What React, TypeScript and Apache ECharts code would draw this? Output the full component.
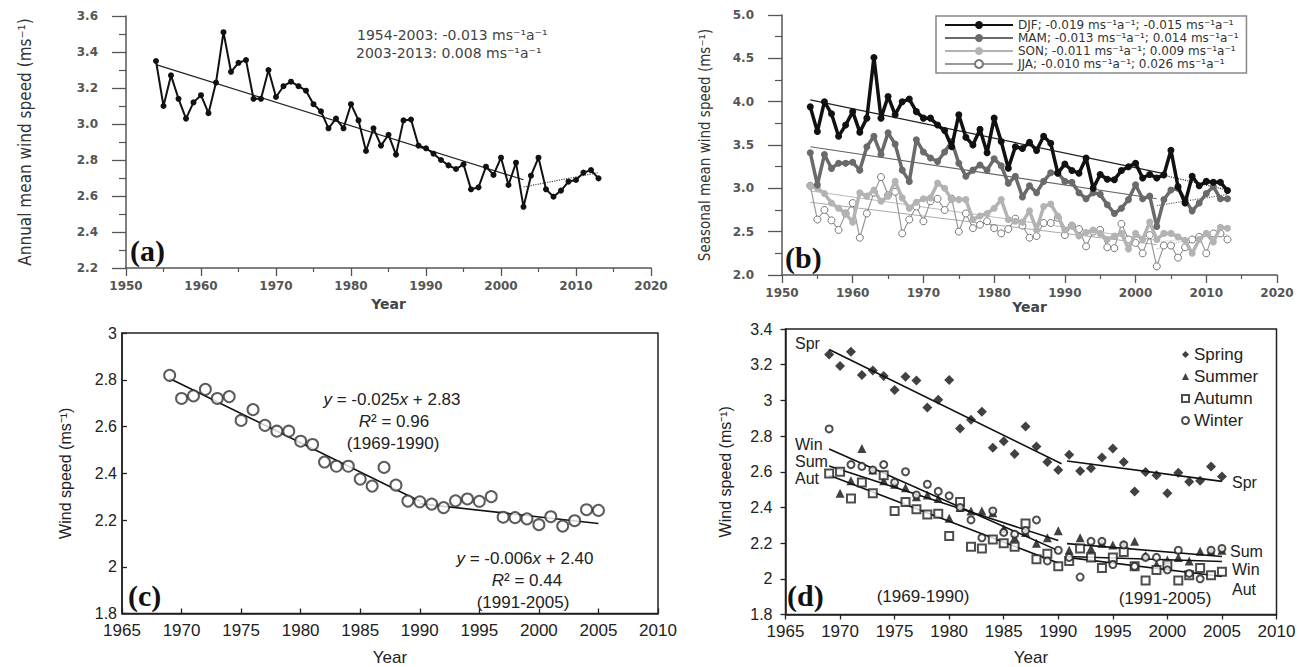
import React, { useEffect, useRef } from "react";
import * as echarts from "echarts";

// ---------- Panel (a): annual mean wind speed 1954-2013 ----------
const startA = 1954;
const annualMean = [
  3.35, 3.1, 3.27, 3.14, 3.03, 3.12, 3.16, 3.06, 3.23, 3.51,
  3.29, 3.34, 3.355, 3.14, 3.14, 3.3, 3.15, 3.21, 3.235, 3.21,
  3.185, 3.11, 3.07, 2.976, 3.03, 2.976, 3.11, 3.02, 2.85, 2.976,
  2.88, 2.94, 2.83, 3.02, 3.025, 2.88, 2.865, 2.835, 2.8, 2.77,
  2.75, 2.776, 2.637, 2.648, 2.763, 2.717, 2.813, 2.661, 2.785, 2.54,
  2.713, 2.813, 2.637, 2.596, 2.63, 2.68, 2.689, 2.73, 2.744, 2.698,
];
const trendA1 = [[1954, 3.33], [2003, 2.69]];
const trendA2 = [[2003, 2.65], [2013, 2.73]];

// ---------- Panel (b): seasonal mean wind speed 1954-2013 ----------
const djf = [
  3.94, 3.655, 4.0, 3.86, 3.6, 3.73, 3.885, 3.648, 3.81, 4.51,
  3.81, 4.06, 3.85, 4.0, 4.03, 3.885, 3.81, 3.81, 3.73, 3.667,
  3.48, 3.85, 3.59, 3.5, 3.68, 3.41, 3.81, 3.54, 3.233, 3.48,
  3.46, 3.53, 3.436, 3.6, 3.52, 3.175, 3.28, 3.205, 3.175, 3.35,
  3.0, 3.16, 3.105, 3.1, 3.205, 3.25, 3.29, 3.12, 3.16, 3.12,
  3.155, 3.44, 3.02, 2.83, 3.14, 3.03, 3.08, 3.07, 3.07, 2.975,
];
const mam = [
  3.41, 3.04, 3.39, 3.23, 3.29, 3.29, 3.3, 3.21, 3.48, 3.6,
  3.39, 3.64, 3.51, 3.21, 3.08, 3.56, 3.42, 3.35, 3.31, 3.42,
  3.54, 3.29, 3.14, 3.21, 3.27, 3.21, 3.34, 3.26, 3.06, 3.14,
  2.9, 3.03, 2.95, 3.08, 3.18, 3.18, 3.08, 3.07, 2.95, 2.88,
  2.95, 2.93, 2.81, 2.71, 2.77, 2.87, 3.04, 2.88, 2.91, 2.56,
  2.87, 2.98, 3.0, 2.87, 2.74, 2.83, 2.94, 3.02, 2.88, 2.88,
];
const son = [
  3.03, 3.0, 2.94, 2.83, 2.77, 2.71, 2.61, 2.95, 2.91, 2.98,
  2.85, 2.91, 3.08, 2.89, 2.77, 2.84, 2.88, 2.89, 3.06, 3.0,
  2.87, 2.87, 2.87, 2.64, 2.68, 2.71, 2.77, 2.87, 2.64, 2.62,
  2.61, 2.74, 2.52, 2.79, 2.82, 2.68, 2.52, 2.57, 2.45, 2.49,
  2.52, 2.48, 2.41, 2.45, 2.48, 2.3, 2.48, 2.41, 2.61, 2.41,
  2.48, 2.48, 2.44, 2.4, 2.25, 2.41, 2.48, 2.38, 2.55, 2.54,
];
const jja = [
  3.03, 2.64, 2.75, 2.63, 2.52, 2.71, 2.83, 2.43, 2.71, 2.95,
  3.13, 2.92, 2.96, 2.48, 2.64, 2.79, 2.62, 2.85, 2.88, 2.75,
  2.88, 2.5, 2.71, 2.54, 2.58, 2.62, 2.54, 2.48, 2.53, 2.65,
  2.57, 2.43, 2.45, 2.6, 2.6, 2.66, 2.46, 2.57, 2.53, 2.33,
  2.5, 2.52, 2.32, 2.31, 2.59, 2.41, 2.37, 2.25, 2.46, 2.1,
  2.34, 2.34, 2.2, 2.32, 2.41, 2.44, 2.25, 2.48, 2.48, 2.41,
];
const trendDJF = [[1954, 4.02], [2004, 3.17]];
const trendDJF2 = [[2004, 3.15], [2013, 2.98]];
const trendMAM = [[1954, 3.48], [2003, 2.88]];
const trendMAM2 = [[2003, 2.8], [2013, 2.93]];
const trendSON = [[1954, 2.97], [2003, 2.4]];
const trendSON2 = [[2003, 2.38], [2013, 2.47]];
const trendJJA = [[1954, 2.84], [2003, 2.35]];
const trendJJA2 = [[2003, 2.3], [2013, 2.56]];
const legendB = [
  "DJF; -0.019 ms\u207B\u00B9a\u207B\u00B9; -0.015 ms\u207B\u00B9a\u207B\u00B9",
  "MAM; -0.013 ms\u207B\u00B9a\u207B\u00B9; 0.014 ms\u207B\u00B9a\u207B\u00B9",
  "SON; -0.011 ms\u207B\u00B9a\u207B\u00B9; 0.009 ms\u207B\u00B9a\u207B\u00B9",
  "JJA; -0.010 ms\u207B\u00B9a\u207B\u00B9; 0.026 ms\u207B\u00B9a\u207B\u00B9",
];

// ---------- Panel (c): annual wind speed 1969-2005 ----------
const startC = 1969;
const windC = [
  2.819, 2.72, 2.731, 2.759, 2.72, 2.728, 2.626, 2.672, 2.605, 2.58,
  2.58, 2.537, 2.523, 2.448, 2.43, 2.43, 2.375, 2.345, 2.425, 2.349,
  2.281, 2.278, 2.268, 2.253, 2.282, 2.29, 2.28, 2.3, 2.212, 2.21,
  2.205, 2.18, 2.214, 2.174, 2.197, 2.244, 2.241,
];
const trendC1 = [[1969, 2.805], [1990, 2.28]];
const trendC2 = [[1990, 2.27], [2005, 2.185]];

// ---------- Panel (d): seasonal wind speed 1969-2005 ----------
const spring = [
  3.257, 3.192, 3.272, 3.142, 3.168, 3.136, 3.058, 3.133, 3.112, 2.96,
  3.003, 3.114, 2.843, 2.891, 2.936, 2.735, 2.771, 2.7, 2.854, 2.741,
  2.654, 2.61, 2.695, 2.604, 2.62, 2.68, 2.73, 2.654, 2.49, 2.598,
  2.58, 2.479, 2.594, 2.544, 2.55, 2.63, 2.574,
];
const summer = [
  null, 2.48, 2.55, 2.73, 2.61, 2.55, 2.53, 2.51, 2.46, 2.47,
  2.45, 2.34, 2.4, 2.38, 2.38, 2.37, 2.28, 2.23, 2.26, 2.2,
  2.23, 2.27, 2.16, 2.23, 2.17, 2.2, 2.19, 2.19, 2.21, 2.13,
  2.08, 2.105, 2.12, 2.1, 2.155, 2.155, 2.16,
];
const autumn = [
  2.59, 2.6, 2.45, 2.54, 2.48, 2.58, 2.38, 2.43, 2.39, 2.36,
  2.365, 2.24, 2.43, 2.18, 2.17, 2.22, 2.2, 2.18, 2.31, 2.11,
  2.14, 2.07, 2.1, 2.17, 2.12, 2.06, 2.12, 2.15, 2.07, 1.99,
  2.05, 2.08, 1.99, 2.02, 2.06, 2.02, 2.04,
];
const winter = [
  2.84, null, 2.64, 2.63, 2.61, 2.64, 2.54, 2.6, 2.47, 2.53,
  2.49, 2.465, 2.4, 2.33, 2.23, 2.38, 2.26, 2.25, 2.27, 2.33,
  2.1, 2.16, 2.12, 2.01, 2.21, 2.21, 2.08, 2.19, 2.07, 2.12,
  2.12, 2.05, 2.16, 2.03, 2.0, 2.16, 2.17,
];
const trendSpr1 = [[1969, 3.285], [1990.3, 2.645]];
const trendSpr2 = [[1990.8, 2.66], [2005, 2.546]];
const trendWin1 = [[1969, 2.727], [1990, 2.158]];
const trendSum1 = [[1969, 2.632], [1990, 2.215]];
const trendAut1 = [[1969, 2.58], [1990, 2.088]];
const trendSum2 = [[1990.8, 2.197], [2005, 2.125]];
const trendWin2 = [[1990.8, 2.125], [2005, 2.097]];
const trendAut2 = [[1990.8, 2.12], [2005, 2.013]];

const pairs = (start: number, arr: (number | null)[]) =>
  arr.map((v, i) => (v == null ? null : [start + i, v])).filter((p) => p !== null);

const WIDE = "DejaVu Sans, sans-serif";
const NARROW = "Liberation Sans Narrow, DejaVu Sans Condensed, sans-serif";
const ARIAL = "Liberation Sans, Arial, sans-serif";
const SERIF = "Liberation Serif, Times New Roman, serif";

function trend(data: number[][], x: number, y: number, color: string, width: number, type: string = "solid") {
  return {
    type: "line",
    xAxisIndex: x,
    yAxisIndex: y,
    data,
    symbol: "none",
    silent: true,
    z: 5,
    lineStyle: { color, width, type },
  };
}

function txt(text: string, x: number, y: number, size: number, opts: any = {}) {
  return {
    type: "text",
    x,
    y,
    z: 100,
    style: {
      text,
      fontSize: size,
      fontFamily: opts.family || ARIAL,
      fontWeight: opts.weight || "normal",
      fill: opts.fill || "#222",
      align: opts.align || "left",
      verticalAlign: "middle",
      textAlign: opts.align || "left",
      textVerticalAlign: "middle",
      rich: opts.rich,
    },
  };
}

export default function App() {
  const ref = useRef<HTMLDivElement>(null);
  useEffect(() => {
    if (!ref.current) return;
    const chart = echarts.init(ref.current, null, { renderer: "svg" });

    const axisAB = (min: number, max: number, interval: number, isY: boolean, fmt: boolean) => ({
      type: "value",
      min,
      max,
      interval,
      splitLine: { show: false },
      axisLine: { show: true, onZero: false, lineStyle: { color: "#555", width: 1.5 } },
      axisTick: { show: true, length: isY ? 14 : 8, lineStyle: { color: "#555", width: 1.3 } },
      minorTick: { show: true, splitNumber: 2, length: isY ? 7 : 4, lineStyle: { color: "#555", width: 1.2 } },
      axisLabel: {
        fontFamily: WIDE,
        fontWeight: "bold",
        fontSize: 12,
        color: "#555",
        margin: isY ? 28 : 12,
        formatter: fmt ? (v: number) => v.toFixed(1) : (v: number) => String(v),
      },
    });

    const axisCD = (min: number, max: number, interval: number, isY: boolean, inside: boolean, margin: number) => ({
      type: "value",
      min,
      max,
      interval,
      splitLine: { show: false },
      axisLine: { show: true, onZero: false, lineStyle: { color: "#222", width: 1.5 } },
      axisTick: { show: true, inside, length: 5, lineStyle: { color: "#222", width: 1.3 } },
      axisLabel: {
        fontFamily: ARIAL,
        fontSize: isY ? 16 : 17,
        color: "#222",
        margin,
        formatter: (v: number) => String(Math.round(v * 10) / 10),
      },
    });

    const italic = { i: { fontStyle: "italic", fontSize: 17, fontFamily: ARIAL, fill: "#222" } };

    const option: any = {
      animation: false,
      backgroundColor: "#ffffff",
      grid: [
        { left: 126, top: 16, width: 525, height: 252 },
        { left: 782, top: 15, width: 495, height: 260 },
        { left: 122, top: 333, width: 536, height: 283, show: true, borderColor: "#222", borderWidth: 1.5 },
        { left: 785.5, top: 329, width: 491, height: 287.5, show: true, borderColor: "#222", borderWidth: 1.5 },
      ],
      xAxis: [
        {
          ...axisAB(1950, 2020, 10, false, false),
          gridIndex: 0,
          name: "Year",
          nameLocation: "middle",
          nameGap: 36,
          nameTextStyle: { fontFamily: WIDE, fontWeight: "bold", fontSize: 14, color: "#444", verticalAlign: "middle" },
        },
        {
          ...axisAB(1950, 2020, 10, false, false),
          gridIndex: 1,
          name: "Year",
          nameLocation: "middle",
          nameGap: 32,
          nameTextStyle: { fontFamily: WIDE, fontWeight: "bold", fontSize: 14, color: "#444", verticalAlign: "middle" },
        },
        {
          ...axisCD(1965, 2010, 5, false, true, 8),
          gridIndex: 2,
          name: "Year",
          nameLocation: "middle",
          nameGap: 44,
          nameTextStyle: { fontFamily: ARIAL, fontSize: 17, color: "#222", verticalAlign: "middle" },
        },
        {
          ...axisCD(1965, 2010, 5, false, false, 8),
          gridIndex: 3,
          name: "Year",
          nameLocation: "middle",
          nameGap: 43,
          nameTextStyle: { fontFamily: ARIAL, fontSize: 17, color: "#222", verticalAlign: "middle" },
        },
      ],
      yAxis: [
        {
          ...axisAB(2.2, 3.6, 0.2, true, true),
          gridIndex: 0,
          name: "Annual mean wind speed (ms\u207B\u00B9)",
          nameLocation: "middle",
          nameGap: 101,
          nameTextStyle: { fontFamily: NARROW, fontSize: 17, color: "#333", verticalAlign: "middle" },
        },
        {
          ...axisAB(2.0, 5.0, 0.5, true, true),
          gridIndex: 1,
          name: "Seasonal mean wind speed (ms\u207B\u00B9)",
          nameLocation: "middle",
          nameGap: 77,
          nameTextStyle: { fontFamily: NARROW, fontSize: 15, color: "#333", verticalAlign: "middle" },
        },
        {
          ...axisCD(1.8, 3.0, 0.2, true, true, 5),
          gridIndex: 2,
          name: "Wind speed (ms\u207B\u00B9)",
          nameLocation: "middle",
          nameGap: 57,
          nameTextStyle: { fontFamily: ARIAL, fontSize: 16, color: "#222", verticalAlign: "middle" },
        },
        {
          ...axisCD(1.8, 3.4, 0.2, true, false, 13),
          gridIndex: 3,
          name: "Wind speed (ms\u207B\u00B9)",
          nameLocation: "middle",
          nameGap: 60,
          nameTextStyle: { fontFamily: ARIAL, fontSize: 16, color: "#222", verticalAlign: "middle" },
        },
      ],
      legend: [
        {
          data: legendB,
          orient: "vertical",
          left: 936,
          top: 16,
          itemWidth: 68,
          itemHeight: 10,
          itemGap: 1,
          padding: [3, 8, 3, 8],
          borderColor: "#888",
          borderWidth: 1.5,
          textStyle: { fontFamily: WIDE, fontSize: 12, color: "#333" },
        },
        {
          data: ["Spring", "Summer", "Autumn", "Winter"],
          orient: "vertical",
          left: 1176,
          top: 341,
          itemWidth: 7,
          itemHeight: 7,
          itemGap: 5,
          textStyle: { fontFamily: ARIAL, fontSize: 17, color: "#222" },
        },
      ],
      series: [
        // (a)
        trend(trendA1, 0, 0, "#222", 1.2),
        trend(trendA2, 0, 0, "#444", 1.2, "dotted"),
        {
          type: "line",
          name: "Annual",
          xAxisIndex: 0,
          yAxisIndex: 0,
          data: pairs(startA, annualMean),
          symbol: "circle",
          symbolSize: 6,
          itemStyle: { color: "#111" },
          lineStyle: { color: "#111", width: 2 },
          z: 6,
        },
        // (b)
        trend(trendJJA, 1, 1, "#aaa", 1),
        trend(trendJJA2, 1, 1, "#aaa", 1, "dotted"),
        trend(trendSON, 1, 1, "#bbb", 1),
        trend(trendSON2, 1, 1, "#bbb", 1, "dotted"),
        {
          type: "line",
          name: legendB[3],
          xAxisIndex: 1,
          yAxisIndex: 1,
          data: pairs(startA, jja),
          symbol: "circle",
          symbolSize: 7,
          itemStyle: { color: "#ffffff", borderColor: "#777", borderWidth: 1 },
          lineStyle: { color: "#999", width: 1.2 },
          z: 6,
        },
        {
          type: "line",
          name: legendB[2],
          xAxisIndex: 1,
          yAxisIndex: 1,
          data: pairs(startA, son),
          symbol: "circle",
          symbolSize: 7,
          itemStyle: { color: "#b3b3b3" },
          lineStyle: { color: "#b3b3b3", width: 3.5 },
          z: 7,
        },
        trend(trendMAM, 1, 1, "#666", 1.2),
        trend(trendMAM2, 1, 1, "#666", 1.2, "dotted"),
        {
          type: "line",
          name: legendB[1],
          xAxisIndex: 1,
          yAxisIndex: 1,
          data: pairs(startA, mam),
          symbol: "circle",
          symbolSize: 7,
          itemStyle: { color: "#6a6a6a" },
          lineStyle: { color: "#6a6a6a", width: 3.5 },
          z: 8,
        },
        trend(trendDJF, 1, 1, "#222", 1.3),
        trend(trendDJF2, 1, 1, "#333", 1.2, "dotted"),
        {
          type: "line",
          name: legendB[0],
          xAxisIndex: 1,
          yAxisIndex: 1,
          data: pairs(startA, djf),
          symbol: "circle",
          symbolSize: 7,
          itemStyle: { color: "#111" },
          lineStyle: { color: "#111", width: 3.5 },
          z: 9,
        },
        // (c)
        trend(trendC1, 2, 2, "#111", 1.6),
        trend(trendC2, 2, 2, "#111", 1.6),
        {
          type: "scatter",
          name: "Wind speed",
          xAxisIndex: 2,
          yAxisIndex: 2,
          data: pairs(startC, windC),
          symbol: "emptyCircle",
          symbolSize: 11,
          itemStyle: { color: "#333", borderColor: "#333", borderWidth: 1.2 },
          z: 6,
        },
        // (d)
        trend(trendSpr1, 3, 3, "#111", 1.6),
        trend(trendSpr2, 3, 3, "#111", 1.6),
        trend(trendWin1, 3, 3, "#111", 1.6),
        trend(trendSum1, 3, 3, "#111", 1.6),
        trend(trendAut1, 3, 3, "#111", 1.6),
        trend(trendSum2, 3, 3, "#111", 1.6),
        trend(trendWin2, 3, 3, "#111", 1.6),
        trend(trendAut2, 3, 3, "#111", 1.6),
        {
          type: "scatter",
          name: "Spring",
          xAxisIndex: 3,
          yAxisIndex: 3,
          data: pairs(startC, spring),
          symbol: "diamond",
          symbolSize: 10,
          itemStyle: { color: "#111" },
          z: 6,
        },
        {
          type: "scatter",
          name: "Summer",
          xAxisIndex: 3,
          yAxisIndex: 3,
          data: pairs(startC, summer),
          symbol: "triangle",
          symbolSize: 9,
          itemStyle: { color: "#111" },
          z: 6,
        },
        {
          type: "scatter",
          name: "Autumn",
          xAxisIndex: 3,
          yAxisIndex: 3,
          data: pairs(startC, autumn),
          symbol: "emptyRect",
          symbolSize: 8,
          itemStyle: { color: "#222", borderColor: "#222", borderWidth: 1 },
          z: 6,
        },
        {
          type: "scatter",
          name: "Winter",
          xAxisIndex: 3,
          yAxisIndex: 3,
          data: pairs(startC, winter),
          symbol: "emptyCircle",
          symbolSize: 7,
          itemStyle: { color: "#222", borderColor: "#222", borderWidth: 1 },
          z: 6,
        },
      ],
      graphic: [
        txt("1954-2003: -0.013 ms\u207B\u00B9a\u207B\u00B9", 357, 35, 14, { family: WIDE, fill: "#444" }),
        txt("2003-2013: 0.008 ms\u207B\u00B9a\u207B\u00B9", 356, 53, 14, { family: WIDE, fill: "#444" }),
        txt("(a)", 130, 250, 30, { family: SERIF, weight: "bold", fill: "#111" }),
        txt("(b)", 785, 257, 30, { family: SERIF, weight: "bold", fill: "#111" }),
        txt("(c)", 128, 595, 30, { family: SERIF, weight: "bold", fill: "#111" }),
        txt("(d)", 787, 595, 30, { family: SERIF, weight: "bold", fill: "#111" }),
        txt("{i|y} = -0.025{i|x} + 2.83", 392, 399, 17, { align: "center", rich: italic }),
        txt("{i|R}\u00B2 = 0.96", 394, 421, 17, { align: "center", rich: italic }),
        txt("(1969-1990)", 393, 443, 17, { align: "center" }),
        txt("{i|y} = -0.006{i|x} + 2.40", 525, 558, 17, { align: "center", rich: italic }),
        txt("{i|R}\u00B2 = 0.44", 527, 580, 17, { align: "center", rich: italic }),
        txt("(1991-2005)", 523, 602, 17, { align: "center" }),
        txt("Spr", 795, 343, 16),
        txt("Win", 795, 444, 16),
        txt("Sum", 795, 461, 16),
        txt("Aut", 795, 478, 16),
        txt("Spr", 1232, 482, 16),
        txt("Sum", 1230, 551, 16),
        txt("Win", 1232, 569, 16),
        txt("Aut", 1232, 589, 16),
        txt("(1969-1990)", 923, 596, 17, { align: "center" }),
        txt("(1991-2005)", 1165, 598, 17, { align: "center" }),
      ],
    };

    chart.setOption(option);
    return () => chart.dispose();
  }, []);

  return (
    <div
      ref={ref}
      style={{ position: "absolute", left: 0, top: 0, width: 1299, height: 667, background: "#fff" }}
    />
  );
}
